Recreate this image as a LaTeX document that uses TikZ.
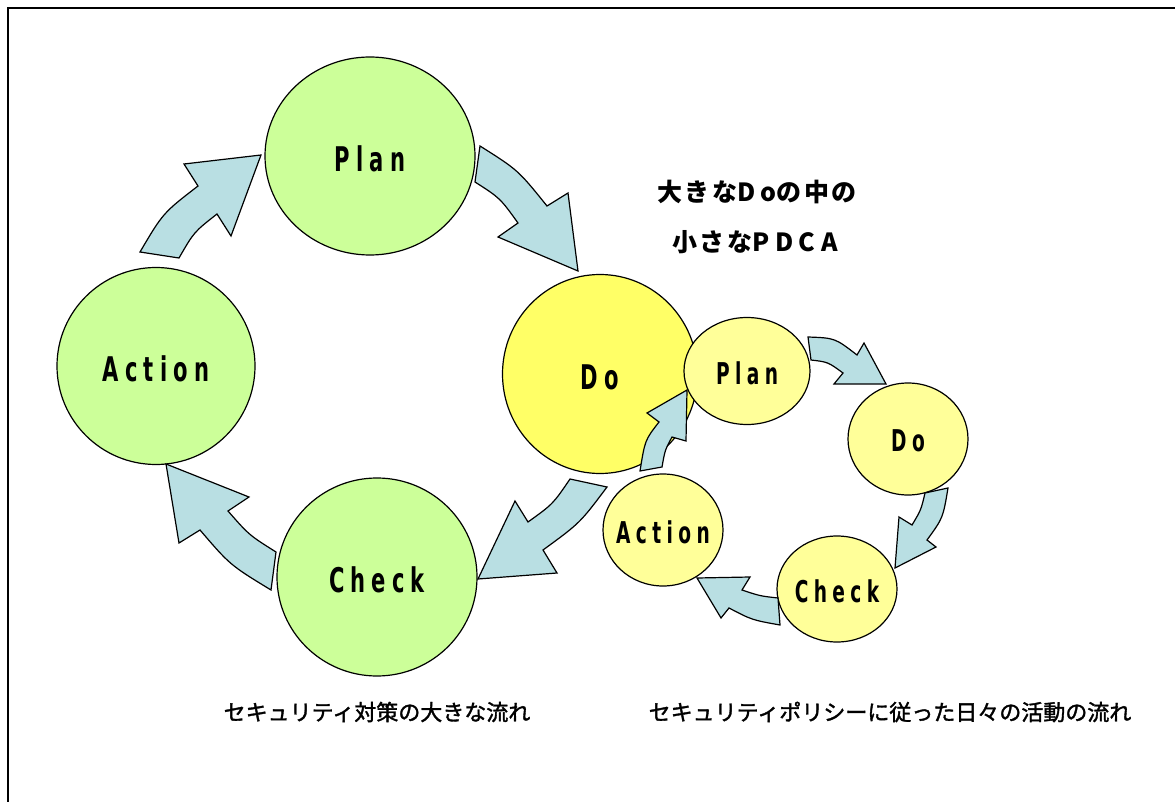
\documentclass[tikz,border=0pt]{standalone}
\usepackage{fontspec}
\usetikzlibrary{shapes.geometric}
\newfontfamily\jp{Noto Sans CJK JP}[UprightFeatures={FakeBold=1.6}]
\newfontfamily\jpsp{Noto Sans CJK JP}[LetterSpace=10]
\newfontfamily\jplat{Noto Sans CJK JP}[LetterSpace=22]
\newfontfamily\lat{DejaVu Sans}[FakeStretch=0.62, LetterSpace=18]
\definecolor{biggreen}{HTML}{CCFF99}
\definecolor{doyellow}{HTML}{FFFF66}
\definecolor{smallyellow}{HTML}{FFFF99}
\definecolor{arrowblue}{HTML}{B9DFE3}
\tikzset{
  circbase/.style={ellipse, draw=black, line width=1.2pt, inner sep=0pt},
  bigc/.style={circbase, fill=biggreen},
  doc/.style={circbase, fill=doyellow},
  smc/.style={circbase, fill=smallyellow},
  biglab/.style={font=\lat\bfseries\fontsize{34}{40}\selectfont, inner sep=0pt, yshift=-3pt},
  smalllab/.style={font=\lat\bfseries\fontsize{30}{36}\selectfont, inner sep=0pt, yshift=-2pt},
  blockarrow/.style={fill=arrowblue, draw=black, line width=1.2pt, line join=miter},
  titletext/.style={font=\jpsp\bfseries\fontsize{25}{30}\selectfont},
  captiontext/.style={font=\jp\fontsize{22}{26}\selectfont}
}
\begin{document}
\begin{tikzpicture}[x=1pt,y=-1pt]
\useasboundingbox (0,0) rectangle (1175,802);
\clip (0,0) rectangle (1175,802);
\draw[line width=2pt] (8,840) -- (8,8) -- (1200,8);

% big cycle
\node[bigc, minimum width=210pt, minimum height=198pt, label={[biglab]center:Plan}] (P) at (370,156) {};
\node[bigc, minimum width=198pt, minimum height=197pt, label={[biglab]center:Action}] (A) at (156,366) {};
\node[bigc, minimum width=200pt, minimum height=198pt, label={[biglab]center:Check}] (C) at (377,577) {};
\node[doc, minimum width=195pt, minimum height=199pt, label={[biglab]center:Do}] (D) at (600,374) {};

% small cycle
\node[smc, minimum width=126pt, minimum height=107pt, label={[smalllab]center:Plan}] (sP) at (747,371) {};
\node[smc, minimum width=120pt, minimum height=112pt, label={[smalllab]center:Do}] (sD) at (908,439) {};
\node[smc, minimum width=120pt, minimum height=106pt, label={[smalllab]center:Check}] (sC) at (837,589) {};
\node[smc, minimum width=120pt, minimum height=112pt, label={[smalllab]center:Action}] (sA) at (663,530) {};

% big arrows
\draw[blockarrow] (140,252) .. controls (163,213) .. (198,186) -- (184,164) -- (261,155)
  -- (231,236) -- (217,214) .. controls (194,232) .. (179,258) -- cycle;
\draw[blockarrow] (480,146) .. controls (518,170) .. (547,206) -- (568,193) -- (578,271)
  -- (498,237) -- (518,223) .. controls (500,198) .. (475,182) -- cycle;
\draw[blockarrow] (570,479) .. controls (553,504) .. (528,522) -- (515,501) -- (478,579)
  -- (557,573) -- (543,550) .. controls (580,523) .. (607,487) -- cycle;
\draw[blockarrow] (166,464) -- (249,497) -- (228,511) .. controls (249,535) .. (276,552)
  -- (271,590) .. controls (230,565) .. (200,530) -- (179,543) -- cycle;

% small arrows
\draw[blockarrow] (808,337) .. controls (835,338) .. (857,355) -- (864,343) -- (886,384)
  -- (834,384) -- (843,373) .. controls (828,362) .. (811,360) -- cycle;
\draw[blockarrow] (948,488) .. controls (943,518) .. (927,540) -- (936,547) -- (895,568)
  -- (899,517) -- (912,525) .. controls (921,510) .. (925,493) -- cycle;
\draw[blockarrow] (697,578) -- (750,577) -- (742,590) .. controls (760,596) .. (778,598)
  -- (780,625) .. controls (752,620) .. (729,608) -- (721,618) -- cycle;
\draw[blockarrow] (640,471) .. controls (645,440) .. (659,422) -- (647,413) -- (687,390)
  -- (686,441) -- (672,437) .. controls (665,450) .. (662,467) -- cycle;

% texts
\node[titletext] (t1) at (757,192) {大きな{\jplat\bfseries Do}の中の};
\node[titletext] (t2) at (755,242) {小さな{\jplat\bfseries PDCA}};
\node[captiontext] (c1) at (377,712) {セキュリティ対策の大きな流れ};
\node[captiontext] (c2) at (890,712) {セキュリティポリシーに従った日々の活動の流れ};
\end{tikzpicture}
\end{document}
